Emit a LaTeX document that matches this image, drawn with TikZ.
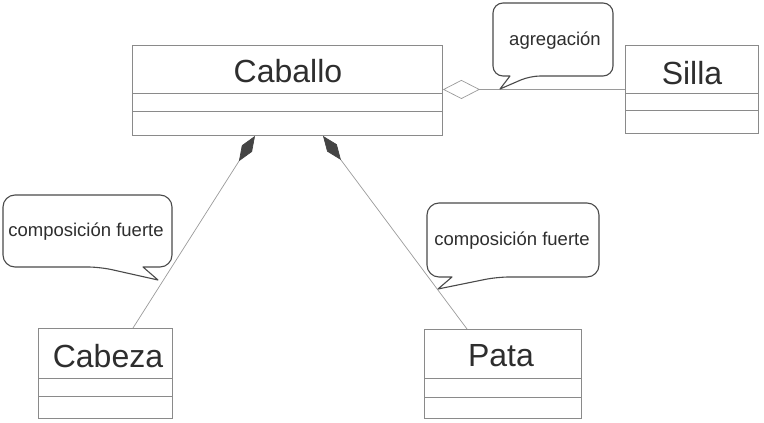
\documentclass[tikz,border=0pt]{standalone}
\usepackage{fontspec}
\setmainfont{Liberation Sans}
\usetikzlibrary{arrows.meta}
\definecolor{boxgray}{HTML}{8A8A8A}
\definecolor{txtgray}{HTML}{2E2E2E}
\definecolor{linegray}{HTML}{9A9A9A}
\definecolor{darkfill}{HTML}{444444}
\definecolor{calloutline}{HTML}{4A4A4A}
\begin{document}
\begin{tikzpicture}[x=1pt,y=-1pt,
  cls/.style={draw=boxgray, line width=0.9pt, anchor=north west, inner sep=0pt, fill=white},
  divline/.style={draw=boxgray, line width=0.9pt},
  clstext/.style={font=\fontsize{32}{35}\selectfont, text=txtgray, inner sep=0pt},
  notetext/.style={font=\fontsize{18.5}{21}\selectfont, text=txtgray, inner sep=0pt},
  callout/.style={draw=calloutline, line width=1.1pt, fill=white, line join=round},
  comp/.style={draw=linegray, line width=0.7pt, -{Diamond[length=30pt,width=12pt,color=darkfill,fill=darkfill]}},
  aggr/.style={draw=linegray, line width=0.7pt, -{Diamond[length=37pt,width=19pt,color=linegray,fill=white]}}
]
\useasboundingbox (0,0) rectangle (764,423);

% class boxes
\node[cls, minimum width=310pt, minimum height=90pt] (caballo) at (132,45) {};
\node[cls, minimum width=133pt, minimum height=88pt] (silla) at (625,45) {};
\node[cls, minimum width=134pt, minimum height=90pt] (cabeza) at (38,328) {};
\node[cls, minimum width=157pt, minimum height=89pt] (pata) at (424,329) {};

% dividers
\draw[divline] ([yshift=-48pt]caballo.north west) -- ([yshift=-48pt]caballo.north east);
\draw[divline] ([yshift=-66pt]caballo.north west) -- ([yshift=-66pt]caballo.north east);
\draw[divline] ([yshift=-48pt]silla.north west) -- ([yshift=-48pt]silla.north east);
\draw[divline] ([yshift=-65pt]silla.north west) -- ([yshift=-65pt]silla.north east);
\draw[divline] ([yshift=-50pt]cabeza.north west) -- ([yshift=-50pt]cabeza.north east);
\draw[divline] ([yshift=-68pt]cabeza.north west) -- ([yshift=-68pt]cabeza.north east);
\draw[divline] ([yshift=-49pt]pata.north west) -- ([yshift=-49pt]pata.north east);
\draw[divline] ([yshift=-68pt]pata.north west) -- ([yshift=-68pt]pata.north east);

% class names
\node[clstext] (tcaballo) at (288,71) {Caballo};
\node[clstext] (tsilla) at (692,73) {Silla};
\node[clstext] (tcabeza) at (108,356) {Cabeza};
\node[clstext] (tpata) at (501,356) {Pata};

% connectors
\draw[comp] ([xshift=95pt]cabeza.north west) -- ([xshift=123pt]caballo.south west);
\draw[comp] ([xshift=43pt]pata.north west) -- ([xshift=191pt]caballo.south west);
\draw[aggr] (silla.west) -- (silla.west -| caballo.east);

% callouts
\draw[callout] (510,76) [rounded corners=10pt] -- (493,76) -- (493,3) -- (613,3) -- (613,76) -- (530,76) [sharp corners] -- (500,89) -- cycle;
\draw[callout] (143,267) [rounded corners=12pt] -- (172,267) -- (172,195) -- (3,195) -- (3,267) -- (100,267) [sharp corners] -- (158,280) -- cycle;
\draw[callout] (452,277) [rounded corners=12pt] -- (427,277) -- (427,203) -- (599,203) -- (599,277) -- (497,277) [sharp corners] -- (438,289) -- cycle;

\node[notetext] (nagr) at (555,41) {agregación};
\node[notetext] (ncomp1) at (86,232) {composición fuerte};
\node[notetext] (ncomp2) at (512,241) {composición fuerte};
\end{tikzpicture}
\end{document}
